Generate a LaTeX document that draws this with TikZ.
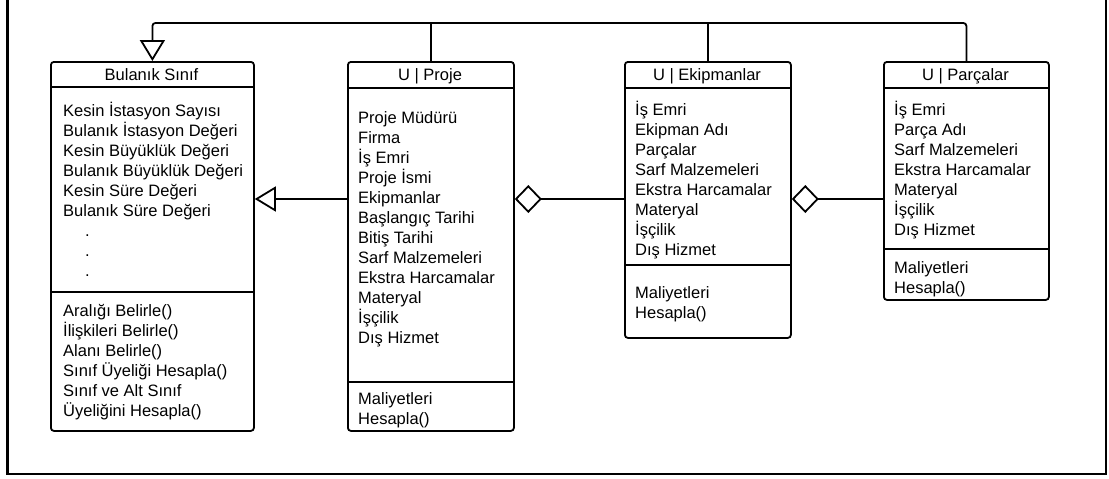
\documentclass[tikz,border=0pt]{standalone}
\usepackage{fontspec}
\setmainfont{Liberation Sans}
\usetikzlibrary{arrows.meta}
\newcommand{\fl}{\rule{0pt}{16pt}}
\begin{document}
\begin{tikzpicture}[x=1pt,y=-1pt,
  box/.style={draw,line width=1.8pt,rounded corners=3pt,anchor=north west,inner sep=0pt},
  sepline/.style={line width=1.8pt},
  conn/.style={line width=1.8pt},
  txt/.style={align=left,inner sep=0pt,anchor=north west,font=\fontsize{16.5}{20}\selectfont},
  hdr/.style={inner sep=0pt,anchor=base,font=\fontsize{16.5}{20}\selectfont},
  inh/.style={-{Triangle[open,length=21pt,width=25pt,fill=white]}},
  agg/.style={-{Diamond[open,length=27pt,width=28pt,fill=white]}}
]
\useasboundingbox (0,0) rectangle (1109,479);
% frame
\draw[line width=2.2pt] (7.5,0) -- (7.5,474) -- (1106,474) -- (1106,0);

% boxes
\node[box,minimum width=203pt,minimum height=369pt] (bul) at (50,61) {};
\node[box,minimum width=166pt,minimum height=369pt] (proj) at (347,61) {};
\node[box,minimum width=166pt,minimum height=276pt] (ekip) at (624,61) {};
\node[box,minimum width=165pt,minimum height=238pt] (parc) at (883,61) {};

% separators
\draw[sepline] (bul.west |- 0,87) -- (bul.east |- 0,87);
\draw[sepline] (bul.west |- 0,292) -- (bul.east |- 0,292);
\draw[sepline] (proj.west |- 0,88) -- (proj.east |- 0,88);
\draw[sepline] (proj.west |- 0,382) -- (proj.east |- 0,382);
\draw[sepline] (ekip.west |- 0,88) -- (ekip.east |- 0,88);
\draw[sepline] (ekip.west |- 0,265) -- (ekip.east |- 0,265);
\draw[sepline] (parc.west |- 0,88) -- (parc.east |- 0,88);
\draw[sepline] (parc.west |- 0,249) -- (parc.east |- 0,249);

% headers
\node[hdr] (bulh) at (151.5,80.5) {Bulanık Sınıf};
\node[hdr] (projh) at (430,80.5) {U | Proje};
\node[hdr] (ekiph) at (707,80.5) {U | Ekipmanlar};
\node[hdr] (parch) at (965.5,80.5) {U | Parçalar};

% Bulanik Sinif
\node[txt] (bula) at (63,100) {\fl Kesin İstasyon Sayısı\\Bulanık İstasyon Değeri\\Kesin Büyüklük Değeri\\Bulanık Büyüklük Değeri\\Kesin Süre Değeri\\Bulanık Süre Değeri\\\hspace{22pt}.\\\hspace{22pt}.\\\hspace{22pt}.};
\node[txt] (bulm) at (63,300) {\fl Aralığı Belirle()\\İlişkileri Belirle()\\Alanı Belirle()\\Sınıf Üyeliği Hesapla()\\Sınıf ve Alt Sınıf\\Üyeliğini Hesapla()};

% Proje
\node[txt] (proja) at (358,107) {\fl Proje Müdürü\\Firma\\İş Emri\\Proje İsmi\\Ekipmanlar\\Başlangıç Tarihi\\Bitiş Tarihi\\Sarf Malzemeleri\\Ekstra Harcamalar\\Materyal\\İşçilik\\Dış Hizmet};
\node[txt] (projm) at (358,388) {\fl Maliyetleri\\Hesapla()};

% Ekipmanlar
\node[txt] (ekipa) at (635,99) {\fl İş Emri\\Ekipman Adı\\Parçalar\\Sarf Malzemeleri\\Ekstra Harcamalar\\Materyal\\İşçilik\\Dış Hizmet};
\node[txt] (ekipm) at (635,282) {\fl Maliyetleri\\Hesapla()};

% Parcalar
\node[txt] (parca) at (894,99) {\fl İş Emri\\Parça Adı\\Sarf Malzemeleri\\Ekstra Harcamalar\\Materyal\\İşçilik\\Dış Hizmet};
\node[txt] (parcm) at (894,257) {\fl Maliyetleri\\Hesapla()};

% connectors
\coordinate (top) at (0,23);
\draw[conn,inh,rounded corners=3pt] (parc.north) -- (parc.north |- top) -| (bul.north);
\draw[conn,rounded corners=3pt] (proj.north) -- (proj.north |- top);
\draw[conn,rounded corners=3pt] (ekip.north) -- (ekip.north |- top);
\draw[conn,inh] (proj.west |- 0,199) -- (bul.east |- 0,199);
\draw[conn,agg] (ekip.west |- 0,199) -- (proj.east |- 0,199);
\draw[conn,agg] (parc.west |- 0,199) -- (ekip.east |- 0,199);
\end{tikzpicture}
\end{document}
